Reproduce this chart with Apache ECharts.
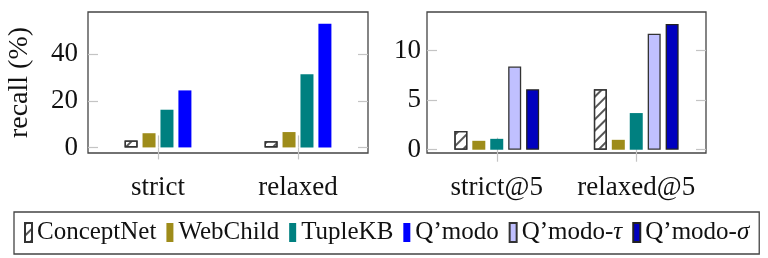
<!DOCTYPE html>
<html>
<head>
<meta charset="utf-8">
<script src="https://cdn.jsdelivr.net/npm/echarts@6/dist/echarts.min.js"></script>
<style>
html,body{margin:0;padding:0;background:#fff;}
#chart{width:768px;height:258px;}
</style>
</head>
<body>
<div id="chart"></div>
<script>
// ---- data ----
var categoriesLeft = ['strict', 'relaxed'];
var categoriesRight = ['strict@5', 'relaxed@5'];
var seriesNames = ['ConceptNet', 'WebChild', 'TupleKB', 'Q’modo', 'Q’modo-τ', 'Q’modo-σ'];
var conceptNetLeft = [3.0, 2.7];
var webChildLeft = [6.1, 6.6];
var tupleKBLeft = [16.2, 31.4];
var qmodoLeft = [24.5, 53.1];
var conceptNetRight = [1.9, 6.1];
var webChildRight = [0.9, 1.0];
var tupleKBRight = [1.1, 3.7];
var qmodoTauRight = [8.4, 11.7];
var qmodoSigmaRight = [6.1, 12.7];
var leftTicks = [0, 20, 40];
var rightTicks = [0, 5, 10];
var yAxisTitle = 'recall (%)';

// ---- styles ----
var SERIF = 'Liberation Serif';
var tickGrey = '#c4c4c4';
var frame = '#444';
var hatch = {
  symbol: 'rect', symbolSize: 1, color: '#555',
  dashArrayX: [1, 0], dashArrayY: [1.1, 6], rotation: -Math.PI / 4
};
var styles = {
  'ConceptNet': {color: '#ffffff', borderColor: '#333', borderWidth: 1.3, decal: hatch},
  'WebChild': {color: '#9e8c1a'},
  'TupleKB': {color: '#008080'},
  'Q’modo': {color: '#0000ff'},
  'Q’modo-τ': {color: '#c0c0ff', borderColor: '#333', borderWidth: 1.3},
  'Q’modo-σ': {color: '#0000bf', borderColor: '#222', borderWidth: 1.3}
};

function bar(name, data, gi) {
  return {
    name: name, type: 'bar', data: data,
    xAxisIndex: gi * 2, yAxisIndex: gi * 2,
    barWidth: 13, barGap: '38%',
    itemStyle: styles[name]
  };
}

function xAxes(cats, gi) {
  return [
    {type: 'category', gridIndex: gi, data: cats, position: 'bottom',
     axisLine: {show: false},
     axisTick: {show: true, inside: false, length: 12, alignWithLabel: true,
                lineStyle: {color: tickGrey, width: 1.2}},
     axisLabel: {fontFamily: SERIF, fontSize: 27, color: '#111', margin: 21,
                 interval: 0, hideOverlap: false}},
    {type: 'category', gridIndex: gi, data: cats, position: 'top',
     axisLine: {show: false},
     axisTick: {show: true, inside: false, length: 12, alignWithLabel: true,
                lineStyle: {color: tickGrey, width: 1.2}},
     axisLabel: {show: false}}
  ];
}

function yAxes(min, max, ticks, gi, margin, title) {
  var a = {type: 'value', gridIndex: gi, min: min, max: max, position: 'left',
     splitLine: {show: false}, axisLine: {show: false},
     axisTick: {show: true, inside: true, length: 10, customValues: ticks,
                lineStyle: {color: tickGrey, width: 1.2}},
     axisLabel: {fontFamily: SERIF, fontSize: 27, color: '#111', margin: margin,
                 customValues: ticks}};
  if (title) {
    a.name = title;
    a.nameLocation = 'middle';
    a.nameGap = 54;
    a.nameTextStyle = {fontFamily: SERIF, fontSize: 28, color: '#111'};
  }
  return [a,
    {type: 'value', gridIndex: gi, min: min, max: max, position: 'right',
     splitLine: {show: false}, axisLine: {show: false},
     axisTick: {show: true, inside: true, length: 10, customValues: ticks,
                lineStyle: {color: tickGrey, width: 1.2}},
     axisLabel: {show: false}}];
}

var chart = echarts.init(document.getElementById('chart'), null, {renderer: 'canvas'});
var option = {
  animation: false,
  backgroundColor: '#fff',
  grid: [
    {left: 88, top: 12, width: 280, height: 141, show: true,
     borderColor: frame, borderWidth: 1.3, backgroundColor: 'transparent'},
    {left: 427, top: 12, width: 279, height: 141, show: true,
     borderColor: frame, borderWidth: 1.3, backgroundColor: 'transparent'}
  ],
  xAxis: xAxes(categoriesLeft, 0).concat(xAxes(categoriesRight, 1)),
  yAxis: yAxes(-2.4, 58.2, leftTicks, 0, 10, yAxisTitle)
           .concat(yAxes(-0.33, 13.9, rightTicks, 1, 6, null)),
  legend: {
    data: seriesNames,
    left: 14, top: 212,
    orient: 'horizontal',
    padding: [8, 10, 9, 10],
    borderColor: frame, borderWidth: 1.3,
    itemWidth: 7, itemHeight: 19, itemGap: 10,
    icon: 'rect',
    textStyle: {fontFamily: SERIF, fontSize: 25, color: '#111',
      rich: {it: {fontFamily: SERIF, fontSize: 25, fontStyle: 'italic', color: '#111'}}},
    formatter: function (name) {
      return name.replace(/-(τ|σ)$/, '-{it|$1}');
    }
  },
  series: [
    bar('ConceptNet', conceptNetLeft, 0),
    bar('WebChild', webChildLeft, 0),
    bar('TupleKB', tupleKBLeft, 0),
    bar('Q’modo', qmodoLeft, 0),
    bar('ConceptNet', conceptNetRight, 1),
    bar('WebChild', webChildRight, 1),
    bar('TupleKB', tupleKBRight, 1),
    bar('Q’modo-τ', qmodoTauRight, 1),
    bar('Q’modo-σ', qmodoSigmaRight, 1)
  ]
};
chart.setOption(option);
</script>
</body>
</html>
